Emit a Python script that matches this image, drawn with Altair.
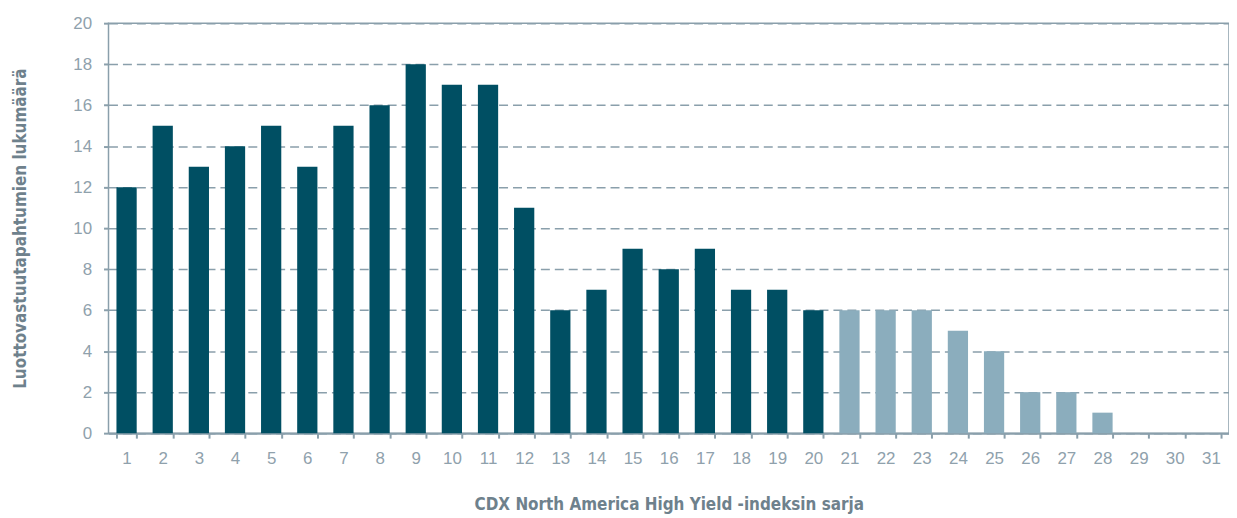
import altair as alt
import pandas as pd

series = [str(i) for i in range(1, 32)]
counts = [12, 15, 13, 14, 15, 13, 15, 16, 18, 17, 17, 11, 6, 7, 9, 8, 9, 7, 7, 6,
          6, 6, 6, 5, 4, 2, 2, 1, 0, 0, 0]
group = ["a"] * 20 + ["b"] * 11

df = pd.DataFrame({"sarja": series, "lkm": counts, "ryhma": group})

AX = "#8a9fab"
TXT = "#8fa1ac"
TITLE = "#6e818c"

chart = alt.Chart(df).mark_bar().encode(
    x=alt.X("sarja:N", sort=series,
            scale=alt.Scale(paddingInner=0.44, paddingOuter=0.22),
            axis=alt.Axis(title="CDX North America High Yield -indeksin sarja",
                          labelAngle=0, tickBand="extent", tickSize=5,
                          labelPadding=12, titlePadding=31, grid=False)),
    y=alt.Y("lkm:Q", scale=alt.Scale(domain=[0, 20]),
            axis=alt.Axis(title="Luottovastuutapahtumien lukumäärä",
                          values=list(range(0, 21, 2)), tickSize=5,
                          labelPadding=12, titlePadding=43,
                          grid=True, gridDash=[9, 5], gridColor=AX,
                          gridWidth=1.5)),
    color=alt.Color("ryhma:N", scale=alt.Scale(domain=["a", "b"],
                                               range=["#004f63", "#8badbd"]),
                    legend=None),
).properties(
    width=1126, height=412,
    padding={"left": 4, "top": 5, "right": 0, "bottom": 0},
).configure_view(
    stroke=AX, strokeWidth=1.5
).configure_axis(
    domainColor=AX, domainWidth=2, tickColor=AX, tickWidth=2,
    labelColor=TXT, labelFont="Liberation Sans", labelFontSize=17,
    titleColor=TITLE, titleFont="DejaVu Sans Condensed",
    titleFontSize=17, titleFontWeight="bold",
).configure_axisY(
    domain=False
)

chart.save("out.html", embed_options={"renderer": "svg", "actions": False})
